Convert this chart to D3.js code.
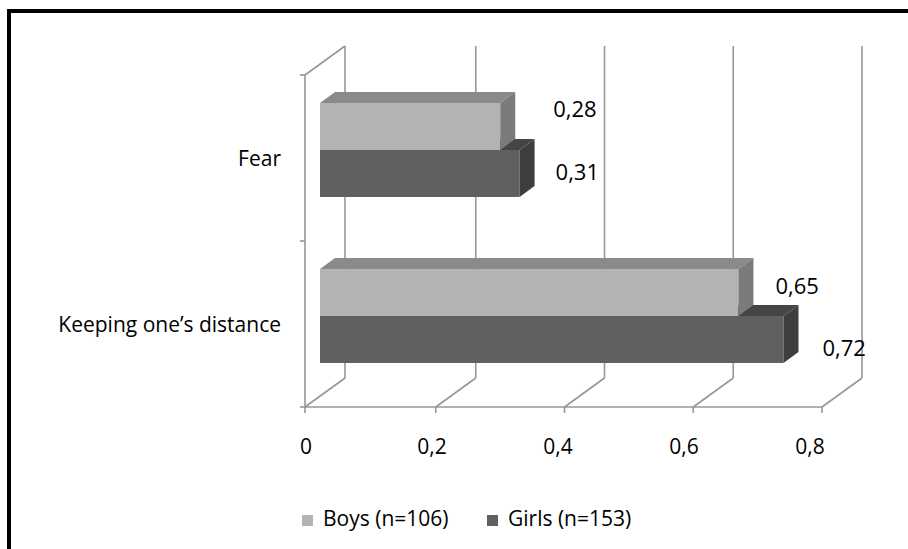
<!DOCTYPE html>
<html>
<head>
<meta charset="utf-8">
<script src="https://cdn.jsdelivr.net/npm/d3@7"></script>
<style>
  body { margin: 0; background: #fff; }
  text { font-family: "Open Sans", "Liberation Sans", sans-serif; fill: #000; }
</style>
</head>
<body>
<div id="chart"></div>
<script>

/* DATA */
const categories = ["Fear", "Keeping one’s distance"];
const seriesNames = ["Boys (n=106)", "Girls (n=153)"];
const boysValues = [0.28, 0.65];
const girlsValues = [0.31, 0.72];
const xTicks = [0, 0.2, 0.4, 0.6, 0.8];

/* CONSTANTS AND GLOBALS */
const width = 908;
const height = 549;

// 3D depth of the walls and of the bars
const wall = { dx: 40, dy: -29 };
const barOffset = { dx: 13, dy: -8 };
const barDepth = { dx: 15, dy: -11 };

// Excel places the 3D data labels a bit irregularly: [dx from bar side, dy from face centre]
const labelNudge = {
  "Fear": { boys: [38, -15], girls: [21, 1] },
  "Keeping one’s distance": { boys: [22, -4], girls: [24, 11] }
};

const colors = {
  boys:  { front: "#b3b3b3", top: "#8a8a8a", side: "#7b7b7b" },
  girls: { front: "#606060", top: "#454545", side: "#3e3e3e" }
};

const locale = d3.formatLocale({ decimal: ",", thousands: " ", grouping: [3], currency: ["", ""] });
const fmtTick = locale.format("~g");
const fmtVal = locale.format(".2f");

const rows = categories.map((c, i) => ({
  category: c,
  values: [
    { key: "boys", value: boysValues[i] },
    { key: "girls", value: girlsValues[i] }
  ]
}));

// SCALES =================================================
const xScale = d3.scaleLinear()
  .domain([0, 0.8])
  .range([307, 822]);

// Excel puts the tick labels slightly off the front ticks
const xLabelScale = xScale.copy().range([306, 810]);

const yScale = d3.scaleBand()
  .domain(categories)
  .range([75, 407])
  .paddingInner(0.434)
  .paddingOuter(0.217);

const ySub = d3.scaleBand()
  .domain(["boys", "girls"])
  .range([0, yScale.bandwidth()]);

// CREATE MAIN SVG ELEMENT ==================================
const svg = d3.select("#chart")
  .append("svg")
  .attr("width", width)
  .attr("height", height);

// frame (only top and left edges show)
svg.append("path")
  .attr("d", `M9,${height} L9,11 L${width},11`)
  .attr("fill", "none")
  .attr("stroke", "#000")
  .attr("stroke-width", 4);

// WALLS AND GRIDLINES ----------------------------------------
const grid = svg.append("g")
  .attr("fill", "none")
  .attr("stroke", "#979797")
  .attr("stroke-width", 1.6);

const yTop = yScale.range()[0];
const yBottom = yScale.range()[1];
const x0 = xScale(0) - 2;
const gx = d => d === 0 ? x0 : xScale(d);

// back wall vertical gridlines
grid.selectAll(".back")
  .data(xTicks)
  .join("line")
  .attr("x1", d => gx(d) + wall.dx)
  .attr("x2", d => gx(d) + wall.dx)
  .attr("y1", yTop + wall.dy)
  .attr("y2", yBottom + wall.dy);

// floor diagonals
grid.selectAll(".floor")
  .data(xTicks)
  .join("line")
  .attr("x1", d => gx(d))
  .attr("x2", d => gx(d) + wall.dx)
  .attr("y1", yBottom)
  .attr("y2", yBottom + wall.dy);

// front floor edge and x ticks
grid.append("line")
  .attr("x1", x0).attr("x2", xScale(0.8))
  .attr("y1", yBottom).attr("y2", yBottom);

grid.selectAll(".xtick")
  .data(xTicks)
  .join("line")
  .attr("x1", d => gx(d))
  .attr("x2", d => gx(d))
  .attr("y1", yBottom)
  .attr("y2", yBottom + 6);

// left wall
grid.append("path")
  .attr("d", `M${x0},${yBottom} L${x0},${yTop} L${x0 + wall.dx},${yTop + wall.dy}`);

// category ticks on the left axis
const catEdges = [yTop, (yTop + yBottom) / 2, yBottom];
grid.selectAll(".ytick")
  .data(catEdges)
  .join("line")
  .attr("x1", x0 - 5).attr("x2", x0)
  .attr("y1", d => d).attr("y2", d => d);

// BARS ======================================================
function barFaces(g, d, yFront) {
  const xs = xScale(0) + barOffset.dx;
  const xe = xScale(d.value) + barOffset.dx;
  const h = ySub.bandwidth();
  const c = colors[d.key];

  // front
  g.append("rect")
    .attr("x", xs).attr("y", yFront)
    .attr("width", xe - xs).attr("height", h)
    .attr("fill", c.front);

  // top
  g.append("path")
    .attr("d", `M${xs},${yFront} L${xs + barDepth.dx},${yFront + barDepth.dy} ` +
               `L${xe + barDepth.dx},${yFront + barDepth.dy} L${xe},${yFront} Z`)
    .attr("fill", c.top);

  // side
  g.append("path")
    .attr("d", `M${xe},${yFront} L${xe + barDepth.dx},${yFront + barDepth.dy} ` +
               `L${xe + barDepth.dx},${yFront + h + barDepth.dy} L${xe},${yFront + h} Z`)
    .attr("fill", c.side);
}

const barLayer = svg.append("g");

rows.forEach(row => {
  const g = barLayer.append("g");
  // girls first so the boys front face hides the girls top
  row.values.slice().reverse().forEach(d => {
    const yFront = yScale(row.category) + ySub(d.key) + barOffset.dy;
    barFaces(g, d, yFront);
  });
});

// VALUE LABELS ----------------------------------------------
rows.forEach(row => {
  svg.selectAll(null)
    .data(row.values)
    .join("text")
    .attr("x", d => xScale(d.value) + barOffset.dx + barDepth.dx + labelNudge[row.category][d.key][0])
    .attr("y", d => yScale(row.category) + ySub(d.key) + barOffset.dy + ySub.bandwidth() / 2
                    + labelNudge[row.category][d.key][1])
    .attr("dominant-baseline", "middle")
    .style("font-size", "22px")
    .text(d => fmtVal(d.value));
});

// AXIS LABELS -----------------------------------------------
svg.selectAll(".xlabel")
  .data(xTicks)
  .join("text")
  .attr("x", d => xLabelScale(d))
  .attr("y", 448)
  .attr("text-anchor", "middle")
  .attr("dominant-baseline", "middle")
  .style("font-size", "21px")
  .text(d => fmtTick(d));

svg.selectAll(".ylabel")
  .data(categories)
  .join("text")
  .attr("x", 281)
  .attr("y", d => yScale(d) + yScale.bandwidth() / 2 + 2)
  .attr("text-anchor", "end")
  .attr("dominant-baseline", "middle")
  .style("font-size", "21px")
  .text(d => d);

// LEGEND ----------------------------------------------------
const legendX = [302, 487];
const legend = svg.selectAll(".legend")
  .data(seriesNames)
  .join("g")
  .attr("transform", (_, i) => `translate(${legendX[i]}, 520)`);

legend.append("rect")
  .attr("x", 0).attr("y", -5)
  .attr("width", 11).attr("height", 11)
  .attr("fill", (_, i) => i === 0 ? colors.boys.front : colors.girls.front);

legend.append("text")
  .attr("x", 21)
  .attr("y", 0)
  .attr("dominant-baseline", "middle")
  .style("font-size", "21px")
  .text(d => d);

</script>
</body>
</html>
